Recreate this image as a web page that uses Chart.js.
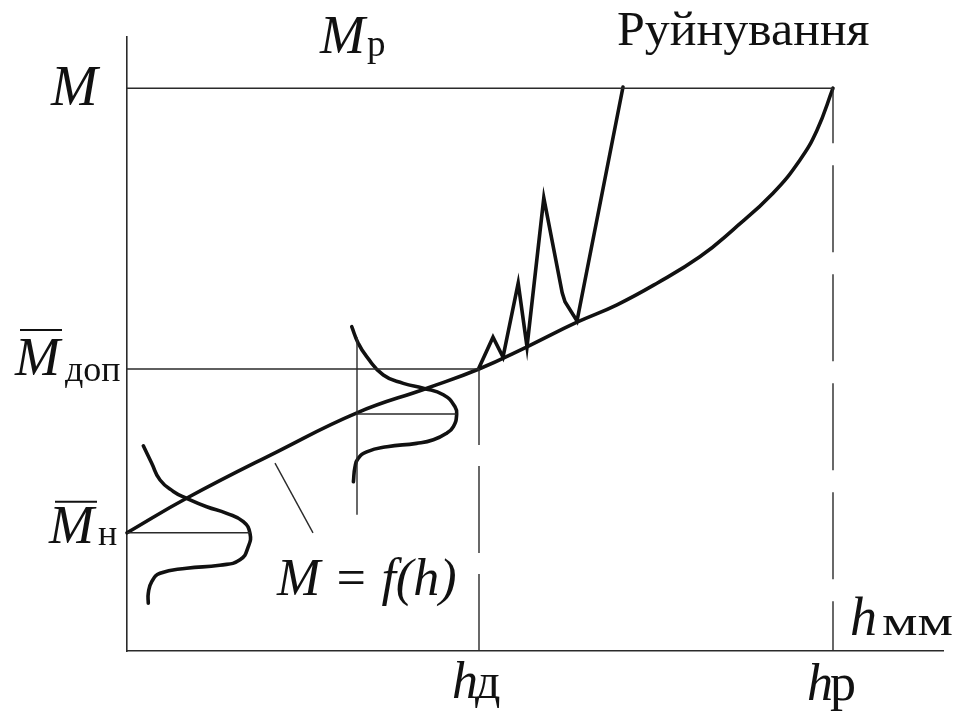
<!DOCTYPE html>
<html>
<head>
<meta charset="utf-8">
<script src="https://cdn.jsdelivr.net/npm/chart.js@4.4.1/dist/chart.umd.min.js"></script>
<style>
  body { margin: 0; background: #fff; }
  canvas { display: block; }
</style>
</head>
<body>
<canvas id="wear-chart" width="958" height="717"></canvas>
<script>
// Characteristic levels of the moment M and the wear h
let levelM = 93.8      // M (failure level)
let levelDop = 47      // allowed mean moment
let levelN = 19.7      // nominal mean moment
let hD = 44            // allowed wear
let hR = 88.25         // wear at failure

// Main curve M = f(h)
let mainH = [0, 7.5, 18.75, 28.75, 37.5, 44, 50, 56.25, 61.25, 66.25, 71.6, 75.75, 80.75, 84.1, 86.25, 88.25]
let mainM = [19.7, 25.5, 33.2, 39.7, 43.8, 47, 50.7, 54.8, 57.7, 61.3, 65.7, 70.2, 76.3, 81.8, 86.8, 93.8]

// Zigzag that goes to failure
let crackH = [44, 45.75, 47, 48.9, 50, 52.1, 54.4, 54.75, 56.25, 62]
let crackM = [47.2, 52.3, 49, 61.3, 50.7, 75.5, 59.7, 58.2, 55, 94]

// Distribution near the nominal moment
let bell1H = [2.04, 3.09, 4.13, 5.79, 7.46, 9.96, 12.46, 14.54, 15.375, 15.16, 14.125, 11.6, 7.46, 4.13, 3.09, 2.66, 2.66]
let bell1M = [34.2, 31.3, 28.5, 26.6, 25.45, 24.05, 22.95, 21.55, 19.6, 17.4, 15.2, 14.3, 13.8, 12.95, 11.55, 9.6, 7.95]

// Distribution in the middle of the curve
let bell2H = [28.09, 28.9, 29.96, 32.04, 34.54, 37.04, 39.54, 41, 41.2, 40.8, 39.96, 38.3, 36.2, 32.5, 29.96, 28.9, 28.5, 28.3]
let bell2M = [54.05, 51.3, 49.05, 46, 44.6, 43.8, 42.7, 40.7, 39.3, 37.4, 36.3, 35.2, 34.6, 34.05, 33.2, 32.1, 30.7, 28.2]
let bell2Axis = 28.75
let bell2Top = 52.3
let bell2Bottom = 22.7
let bell2Mean = 39.5
let bell2Peak = 41.2
let bell1Peak = 15.4

// Leader line for the M = f(h) label
let leaderH = [18.5, 23.25]
let leaderM = [31.3, 19.7]

function toPoints(hs, ms) {
    return hs.map(function(h, i) { return { x: h, y: ms[i] } })
}

let ink = '#111'
let thin = '#2a2a2a'

function thick(data, tension) {
    return {
        data: data,
        showLine: true,
        borderColor: ink,
        borderWidth: 3.6,
        tension: tension,
        pointRadius: 0,
        borderJoinStyle: 'miter',
        borderCapStyle: 'round',
        clip: false
    }
}

function hair(data, dash, offset) {
    return {
        data: data,
        showLine: true,
        borderColor: thin,
        borderWidth: 1.4,
        tension: 0,
        pointRadius: 0,
        borderDash: dash || [],
        borderDashOffset: offset || 0,
        clip: false
    }
}

let datasets = [
    hair([{ x: 0, y: levelM }, { x: hR, y: levelM }]),
    hair([{ x: 0, y: levelDop }, { x: hD, y: levelDop }]),
    hair([{ x: 0, y: levelN }, { x: bell1Peak, y: levelN }]),
    hair([{ x: bell2Axis, y: bell2Top }, { x: bell2Axis, y: bell2Bottom }]),
    hair([{ x: bell2Axis, y: bell2Mean }, { x: bell2Peak, y: bell2Mean }]),
    hair(toPoints(leaderH, leaderM)),
    hair([{ x: hD, y: levelDop }, { x: hD, y: 0 }], [87, 21], 11),
    hair([{ x: hR, y: levelM }, { x: hR, y: 0 }], [87, 22], 32),
    thick(toPoints(mainH, mainM), 0.45),
    thick(toPoints(crackH, crackM), 0),
    thick(toPoints(bell1H, bell1M), 0.5),
    thick(toPoints(bell2H, bell2M), 0.5)
]

// Text labels drawn on top of the chart
let serif = '"Liberation Serif", "DejaVu Serif", serif'

let labelPlugin = {
    id: 'labels',
    afterDraw: function(chart) {
        let ctx = chart.ctx
        let sx = chart.scales.x
        let sy = chart.scales.y
        let x0 = sx.getPixelForValue(0)
        let yM = sy.getPixelForValue(levelM)
        let yDop = sy.getPixelForValue(levelDop)
        let yN = sy.getPixelForValue(levelN)
        let xD = sx.getPixelForValue(hD)
        let xR = sx.getPixelForValue(hR)
        let yAxis = sy.getPixelForValue(0)

        function text(str, x, y, font, stretch) {
            ctx.save()
            ctx.font = font
            ctx.fillStyle = ink
            ctx.textAlign = 'left'
            ctx.textBaseline = 'alphabetic'
            ctx.translate(x, y)
            ctx.scale(stretch || 1, 1)
            ctx.fillText(str, 0, 0)
            ctx.restore()
        }
        function bar(xa, xb, y) {
            ctx.save()
            ctx.strokeStyle = ink
            ctx.lineWidth = 2
            ctx.beginPath()
            ctx.moveTo(xa, y)
            ctx.lineTo(xb, y)
            ctx.stroke()
            ctx.restore()
        }

        // M on the vertical axis
        text('M', x0 - 76, yM + 17, 'italic 56px ' + serif)
        // Mр above the chart
        text('M', x0 + 193, yM - 35, 'italic 54px ' + serif)
        text('р', x0 + 240, yM - 32, '37px ' + serif)
        // Руйнування
        text('Руйнування', 617, yM - 43, '48px ' + serif, 1.04)
        // mean allowed moment
        text('M', x0 - 112, yDop + 6, 'italic 54px ' + serif)
        text('доп', x0 - 62, yDop + 12, '36px ' + serif)
        bar(x0 - 107, x0 - 65, yDop - 39)
        // mean nominal moment
        text('M', x0 - 78, yN + 10, 'italic 54px ' + serif)
        text('н', x0 - 29, yN + 12, '36px ' + serif)
        bar(x0 - 72, x0 - 30, yN - 31)
        // curve label
        text('M = f(h)', x0 + 150, yAxis - 56, 'italic 52px ' + serif)
        // wear marks under the axis
        text('h', xD - 27, yAxis + 47, 'italic 52px ' + serif)
        text('д', xD - 4, yAxis + 47, '50px ' + serif)
        text('h', xR - 26, yAxis + 49, 'italic 52px ' + serif)
        text('р', xR - 3, yAxis + 49, '52px ' + serif)
        // axis name
        text('h', xR + 17, yAxis - 16, 'italic 54px ' + serif)
        text('мм', xR + 49, yAxis - 16, '40px ' + serif, 1.4)
    }
}

let chartCanvas = document.querySelector('#wear-chart')
let ctx = chartCanvas.getContext('2d')

let wearChart = new Chart(ctx, {
    type: 'scatter',
    data: { datasets: datasets },
    options: {
        responsive: false,
        animation: false,
        devicePixelRatio: 1,
        layout: { padding: { left: 127, top: 37, right: 15, bottom: 66 } },
        plugins: {
            legend: { display: false },
            tooltip: { enabled: false }
        },
        scales: {
            x: {
                type: 'linear',
                min: 0,
                max: 102,
                ticks: { display: false },
                grid: { display: false, drawTicks: false },
                border: { display: true, color: thin, width: 1.6 }
            },
            y: {
                type: 'linear',
                min: 0,
                max: 102.33,
                ticks: { display: false },
                grid: { display: false, drawTicks: false },
                border: { display: true, color: thin, width: 1.6 }
            }
        }
    },
    plugins: [labelPlugin]
})
</script>
</body>
</html>
